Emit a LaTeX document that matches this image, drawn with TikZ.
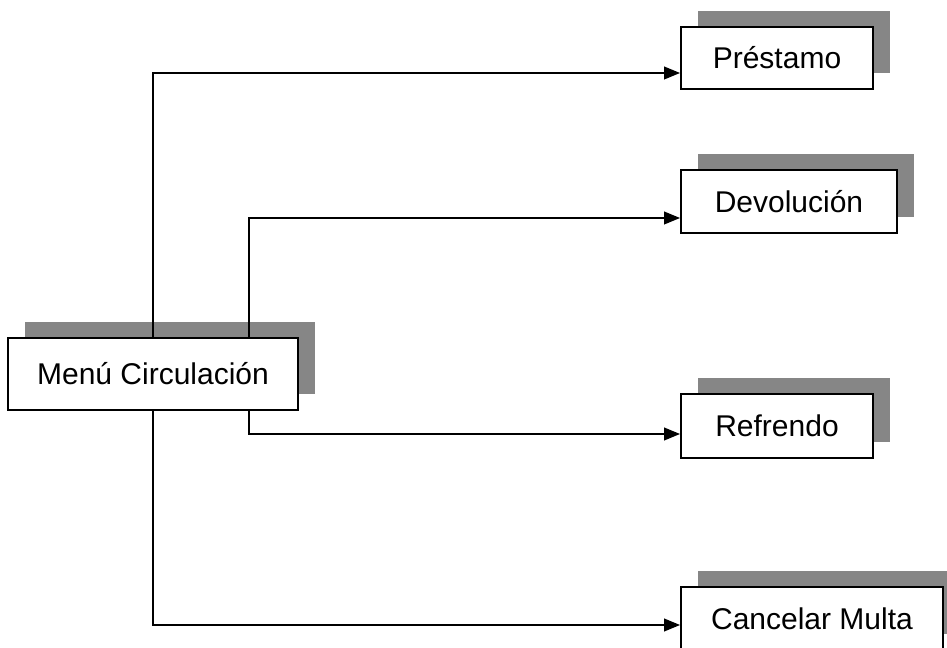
\documentclass[tikz,border=0pt]{standalone}
\usepackage{fontspec}
\setmainfont{Liberation Sans}
\usetikzlibrary{calc,arrows.meta,shadows}

\tikzset{
  menubox/.style={draw=black, line width=1.4pt, fill=white, inner sep=0pt,
    font=\fontsize{22.5}{27}\selectfont,
    general shadow={fill=gray!95, shadow xshift=12.75pt, shadow yshift=12pt}},
  conn/.style={line width=1.4pt, -{Triangle[length=12pt,width=9.5pt]}},
}

\begin{document}
\begin{tikzpicture}[x=0.75pt,y=0.75pt,yscale=-1,xscale=1]
\clip (0,0) rectangle (947,648);
%Boxes
\node[menubox, minimum width=217.5pt, minimum height=54pt] (menu) at (153,374) {Menú Circulación};
\node[menubox, minimum width=144pt, minimum height=46.5pt] (prestamo) at (777,58) {Préstamo};
\node[menubox, minimum width=162pt, minimum height=47.25pt] (devolucion) at (789,201.5) {Devolución};
\node[menubox, minimum width=144pt, minimum height=48pt] (refrendo) at (777,426) {Refrendo};
\node[menubox, minimum width=196.5pt, minimum height=47.25pt] (cancelar) at (812,618.5) {Cancelar Multa};
%Connectors
\draw[conn] (menu.north) |- ($(prestamo.west)+(0,15)$);
\draw[conn] (menu.south) |- ($(cancelar.west)+(0,6.5)$);
\draw[conn] ($(menu.north)+(96,0)$) |- ($(devolucion.west)+(0,16.5)$);
\draw[conn] ($(menu.south)+(96,0)$) |- ($(refrendo.west)+(0,8)$);
\end{tikzpicture}
\end{document}
